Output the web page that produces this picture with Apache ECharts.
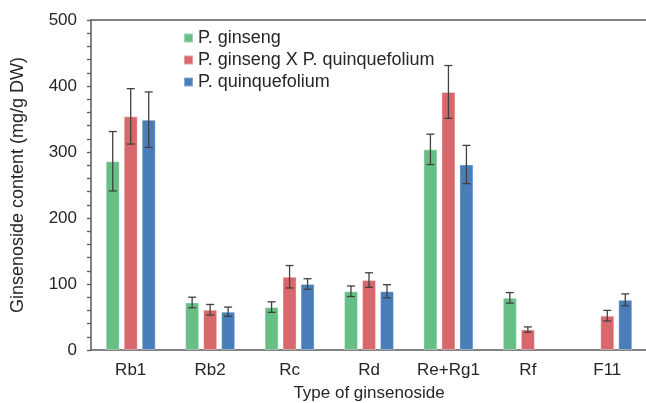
<!DOCTYPE html>
<html>
<head>
<meta charset="utf-8">
<script src="https://cdn.jsdelivr.net/npm/echarts@6/dist/echarts.min.js"></script>
<style>
  html, body { margin: 0; padding: 0; background: #fff; }
  #chart { width: 646px; height: 403px; }
</style>
</head>
<body>
<div id="chart"></div>
<script>
// ginsenoside types
var categories = ['Rb1', 'Rb2', 'Rc', 'Rd', 'Re+Rg1', 'Rf', 'F11'];
var seriesNames = ['P. ginseng', 'P. ginseng X P. quinquefolium', 'P. quinquefolium'];

// mean values (mg/g DW), null = not detected
var ginsengVals = [286, 72, 65, 89, 304, 79, null];
var hybridVals = [354, 61, 111, 106, 391, 31, 52];
var quinqueVals = [349, 58, 100, 89, 281, null, 76];

// error bar half-lengths
var ginsengErr = [45, 8, 8, 8, 23, 8, null];
var hybridErr = [42, 8, 17, 11, 40, 4, 8];
var quinqueErr = [42, 7, 8, 10, 29, null, 9];

var yTicks = [0, 100, 200, 300, 400, 500];

var colors = ['#67bf86', '#d9686c', '#4a7ebb'];
var FONT = 'Liberation Sans';
var BAR_W = 14;
var BAR_GAP = 4;

var chart = echarts.init(document.getElementById('chart'));

function errSeries(vals, errs, idx) {
  var offset = (idx - 1) * (BAR_W + BAR_GAP);
  var data = [];
  for (var i = 0; i < vals.length; i++) {
    if (vals[i] == null) continue;
    data.push([i, vals[i] - errs[i], vals[i] + errs[i]]);
  }
  return {
    type: 'custom',
    name: seriesNames[idx] + ' err',
    z: 10,
    silent: true,
    data: data,
    renderItem: function (params, api) {
      var lo = api.coord([api.value(0), api.value(1)]);
      var hi = api.coord([api.value(0), api.value(2)]);
      var x = lo[0] + offset;
      var cap = 4;
      var style = { stroke: '#404040', lineWidth: 1.3 };
      return {
        type: 'group',
        children: [
          { type: 'line', shape: { x1: x, y1: lo[1], x2: x, y2: hi[1] }, style: style },
          { type: 'line', shape: { x1: x - cap, y1: lo[1], x2: x + cap, y2: lo[1] }, style: style },
          { type: 'line', shape: { x1: x - cap, y1: hi[1], x2: x + cap, y2: hi[1] }, style: style }
        ]
      };
    },
    encode: { x: 0, y: [1, 2] }
  };
}

function barSeries(vals, idx) {
  return {
    type: 'bar',
    name: seriesNames[idx],
    data: vals,
    barWidth: BAR_W,
    barGap: (BAR_GAP / BAR_W * 100) + '%',
    itemStyle: {
      color: colors[idx],
      borderColor: 'rgba(255,255,255,0.35)',
      borderWidth: 1
    }
  };
}

chart.setOption({
  animation: false,
  textStyle: { fontFamily: FONT },
  grid: { left: 91, top: 20, width: 556, height: 330, containLabel: false, outerBoundsMode: 'none' },
  legend: {
    data: seriesNames,
    orient: 'vertical',
    left: 183,
    top: 29,
    padding: 0,
    itemWidth: 9,
    itemHeight: 9,
    itemGap: 4,
    icon: 'rect',
    textStyle: { fontFamily: FONT, fontSize: 18, color: '#262626' }
  },
  xAxis: [{
    type: 'category',
    data: categories,
    name: 'Type of ginsenoside',
    nameLocation: 'middle',
    nameGap: 35,
    nameTextStyle: { fontFamily: FONT, fontSize: 17, color: '#262626' },
    axisLine: { lineStyle: { color: '#595959', width: 1.5 } },
    axisTick: { show: false },
    axisLabel: { fontFamily: FONT, fontSize: 17, color: '#262626', margin: 12, interval: 0 }
  }, {
    type: 'category',
    data: categories,
    position: 'top',
    axisLine: { show: true, lineStyle: { color: '#595959', width: 1.5 } },
    axisTick: { show: false },
    axisLabel: { show: false }
  }],
  yAxis: {
    type: 'value',
    min: yTicks[0],
    max: yTicks[yTicks.length - 1],
    interval: 100,
    name: 'Ginsenoside content (mg/g DW)',
    nameLocation: 'middle',
    nameGap: 64,
    nameTextStyle: { fontFamily: FONT, fontSize: 18, color: '#262626' },
    axisLine: { show: true, lineStyle: { color: '#595959', width: 1.5 } },
    axisTick: { show: true, length: 4, lineStyle: { color: '#595959', width: 1.3 } },
    minorTick: { show: true, splitNumber: 5, length: 4, lineStyle: { color: '#595959', width: 1.3 } },
    splitLine: { show: false },
    axisLabel: { fontFamily: FONT, fontSize: 17, color: '#262626', margin: 14 }
  },
  series: [
    barSeries(ginsengVals, 0),
    barSeries(hybridVals, 1),
    barSeries(quinqueVals, 2),
    errSeries(ginsengVals, ginsengErr, 0),
    errSeries(hybridVals, hybridErr, 1),
    errSeries(quinqueVals, quinqueErr, 2)
  ]
});
</script>
</body>
</html>
